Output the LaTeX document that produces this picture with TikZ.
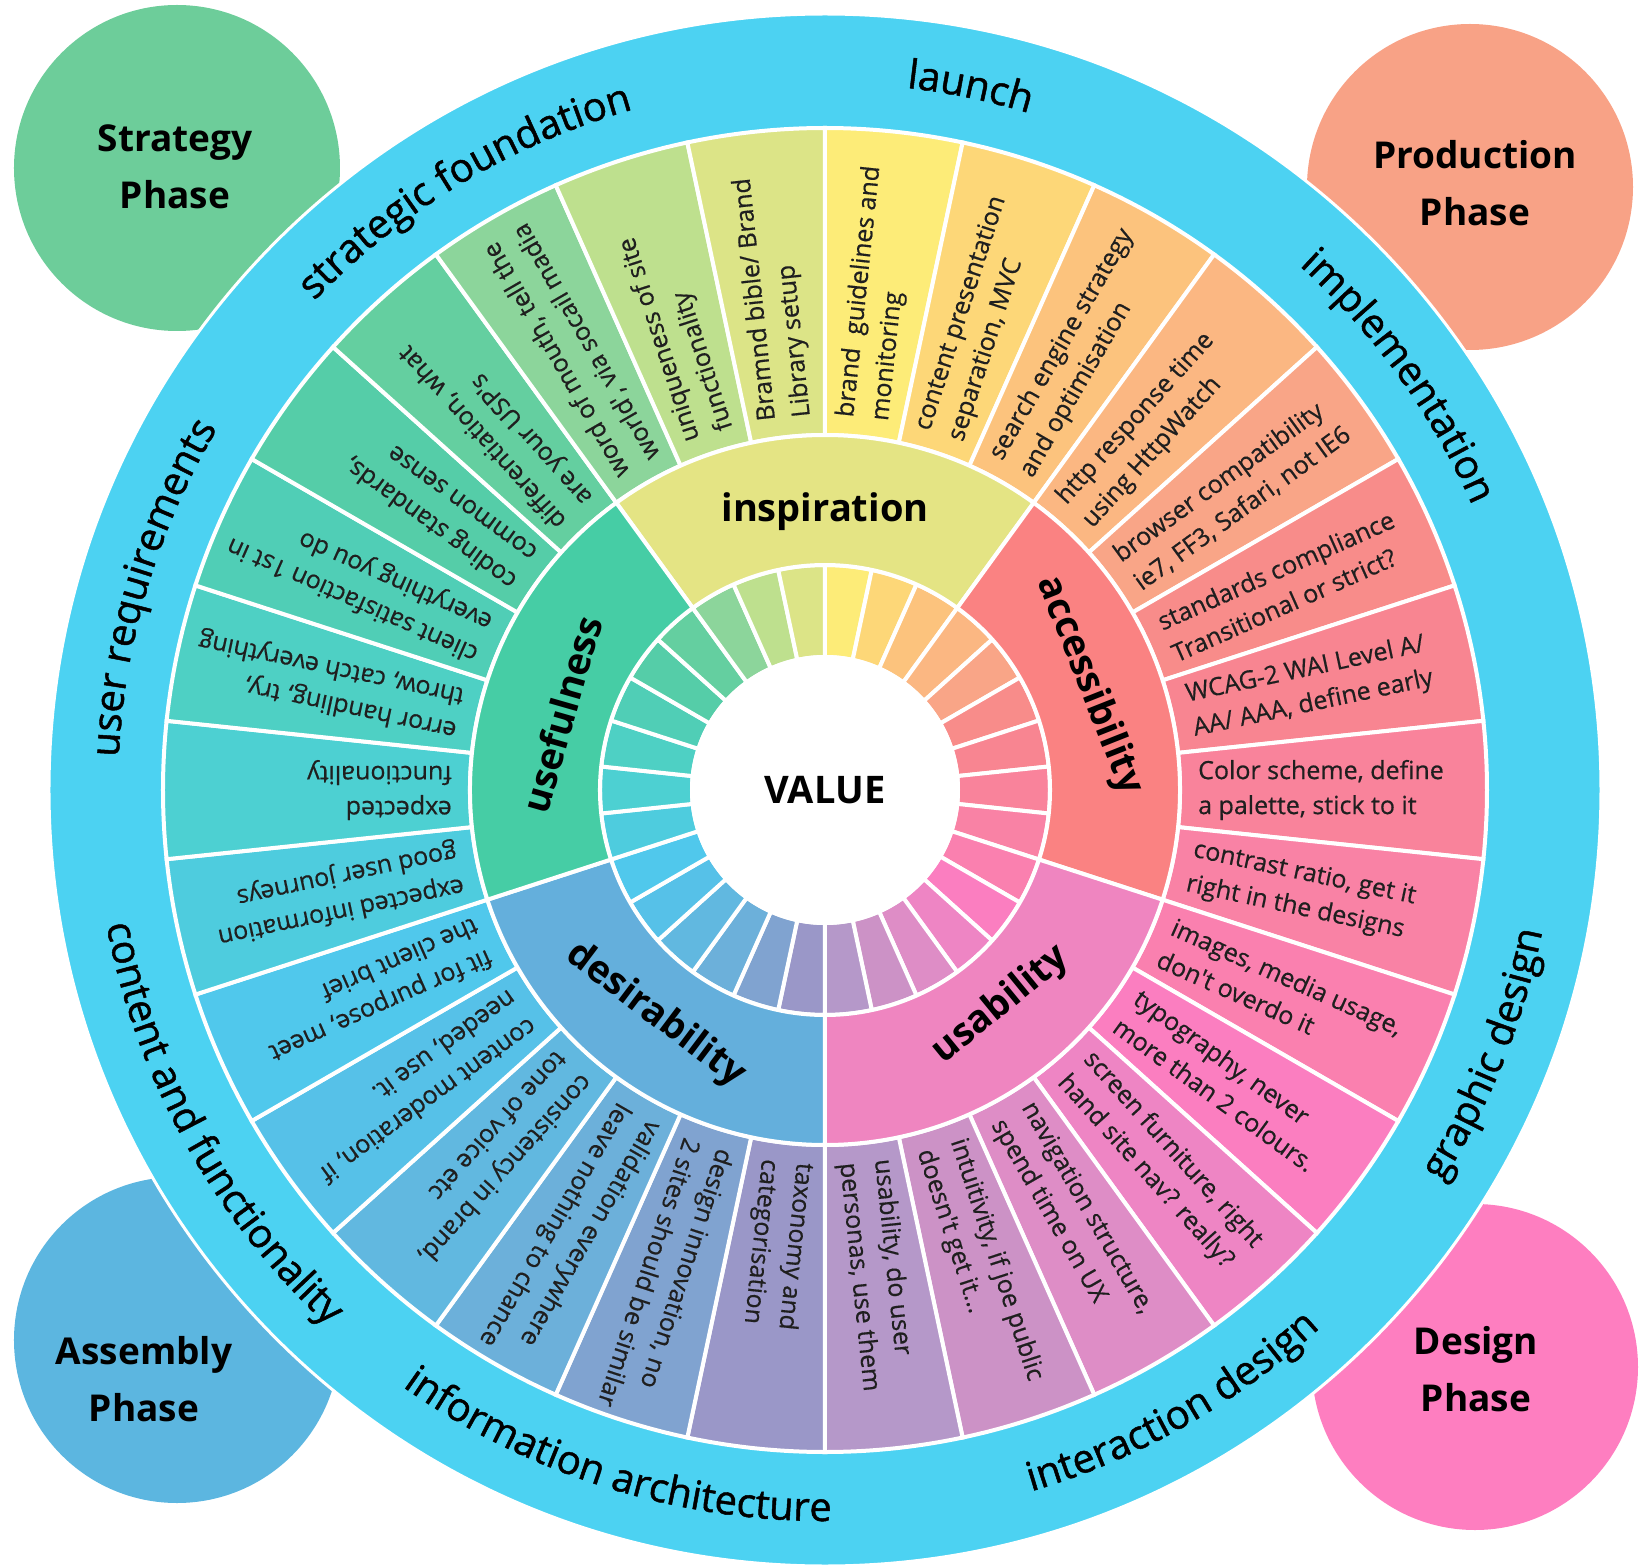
\documentclass[tikz,border=0pt]{standalone}
\usepackage{fontspec}
\setmainfont{Open Sans}
\newfontfamily\ringfam[FakeBold=1.2]{Open Sans}
\newfontfamily\segfam[FakeBold=0.5]{Open Sans}
\usetikzlibrary{decorations.text}
\definecolor{cRing}{HTML}{4CD2F2}
\definecolor{cStrat}{HTML}{6DCD9A}
\definecolor{cProd}{HTML}{F8A286}
\definecolor{cAsm}{HTML}{5CB6E0}
\definecolor{cDes}{HTML}{FE7EC0}
\definecolor{mInsp}{HTML}{E4E484}
\definecolor{mAcc}{HTML}{FA8282}
\definecolor{mUsa}{HTML}{EF85C0}
\definecolor{mDesi}{HTML}{64AFDC}
\definecolor{mUsef}{HTML}{46CDA5}
\definecolor{seg0}{HTML}{FDEC78}
\definecolor{seg1}{HTML}{FDD778}
\definecolor{seg2}{HTML}{FCC37D}
\definecolor{seg3}{HTML}{FBB782}
\definecolor{seg4}{HTML}{F9A587}
\definecolor{seg5}{HTML}{F88C8A}
\definecolor{seg6}{HTML}{F88591}
\definecolor{seg7}{HTML}{F9839B}
\definecolor{seg8}{HTML}{F982A5}
\definecolor{seg9}{HTML}{FA80AF}
\definecolor{seg10}{HTML}{FB7EC0}
\definecolor{seg11}{HTML}{EE85C4}
\definecolor{seg12}{HTML}{DE8DC6}
\definecolor{seg13}{HTML}{CC92C6}
\definecolor{seg14}{HTML}{B598C9}
\definecolor{seg15}{HTML}{9A97C8}
\definecolor{seg16}{HTML}{80A3D0}
\definecolor{seg17}{HTML}{6CB0DA}
\definecolor{seg18}{HTML}{61B8E0}
\definecolor{seg19}{HTML}{56C1E8}
\definecolor{seg20}{HTML}{50C8EC}
\definecolor{seg21}{HTML}{4ECCDE}
\definecolor{seg22}{HTML}{4DD0D2}
\definecolor{seg23}{HTML}{4ED0C4}
\definecolor{seg24}{HTML}{50CEB6}
\definecolor{seg25}{HTML}{55CDA8}
\definecolor{seg26}{HTML}{64CFA0}
\definecolor{seg27}{HTML}{8CD59B}
\definecolor{seg28}{HTML}{BEE08E}
\definecolor{seg29}{HTML}{DCE487}
\newcommand\ringfont{\ringfam\fontsize{40}{42}\selectfont}
\newcommand\segnode[3]{\node[segtxt, rotate={#1}] (#2) at ({#1}:373) {#3};}
\newcommand\ringlabel[4]{\path[decorate, decoration={text along path, text align=center, text={|\ringfont|#4}}] ({#1}:#3) arc[start angle={#1}, end angle={#2}, radius=#3];}
\begin{document}
\begin{tikzpicture}[x=1pt,y=1pt,
  segtxt/.style={anchor=west, align=left, inner sep=0pt, text=black!88, font=\segfam\fontsize{25}{35}\selectfont},
  midlbl/.style={font=\fontsize{38}{40}\selectfont\bfseries, inner sep=0pt},
  phaselbl/.style={font=\fontsize{37}{57}\selectfont\bfseries, align=center, inner sep=0pt},
  sepline/.style={draw=white, line width=4pt}
]
\useasboundingbox (-825,-776) rectangle (816,790);
% corner phase circles
\fill[cStrat] (-648,622) circle (163);
\fill[cProd] (645,603) circle (163);
\fill[cAsm] (-648,-550) circle (163);
\fill[cDes] (650,-577) circle (163);
% blue ring
\filldraw[fill=cRing, draw=white, line width=3pt] (0,0) circle (776);
% outer and inner segments
\foreach \i in {0,...,29} {
  \pgfmathsetmacro\aa{90-12*\i}
  \pgfmathsetmacro\ab{78-12*\i}
  \filldraw[fill=seg\i, sepline] (\aa:355) arc[start angle=\aa, end angle=\ab, radius=355] -- (\ab:662) arc[start angle=\ab, end angle=\aa, radius=662] -- cycle;
  \filldraw[fill=seg\i, sepline] (\aa:133) arc[start angle=\aa, end angle=\ab, radius=133] -- (\ab:225) arc[start angle=\ab, end angle=\aa, radius=225] -- cycle;
}
% middle sectors
\filldraw[fill=mInsp, sepline] (126:225) arc[start angle=126, end angle=54, radius=225] -- (54:355) arc[start angle=54, end angle=126, radius=355] -- cycle;
\filldraw[fill=mAcc, sepline] (54:225) arc[start angle=54, end angle=-18, radius=225] -- (-18:355) arc[start angle=-18, end angle=54, radius=355] -- cycle;
\filldraw[fill=mUsa, sepline] (-18:225) arc[start angle=-18, end angle=-90, radius=225] -- (-90:355) arc[start angle=-90, end angle=-18, radius=355] -- cycle;
\filldraw[fill=mDesi, sepline] (-90:225) arc[start angle=-90, end angle=-162, radius=225] -- (-162:355) arc[start angle=-162, end angle=-90, radius=355] -- cycle;
\filldraw[fill=mUsef, sepline] (-162:225) arc[start angle=-162, end angle=-234, radius=225] -- (-234:355) arc[start angle=-234, end angle=-162, radius=355] -- cycle;
% centre
\filldraw[fill=white, draw=white, line width=4pt] (0,0) circle (133);
\node[midlbl] (value) at (0,0) {VALUE};
% middle labels
\node[midlbl] (insp) at (90:278) {inspiration};
\node[midlbl, rotate=-68.4] (acc) at (21.6:284) {accessibility};
\node[midlbl, rotate=39.3] (usab) at (-50.7:278) {usability};
\node[midlbl, rotate=-37] (desir) at (-127:282) {desirability};
\node[midlbl, rotate=74] (usef) at (164:274) {usefulness};
% segment texts
\segnode{84}{t0}{brand\ \ guidelines and\\monitoring}
\segnode{72}{t1}{content presentation\\separation, MVC}
\segnode{60}{t2}{search engine strategy\\and optimisation}
\segnode{48}{t3}{http response time\\using HttpWatch}
\segnode{36}{t4}{browser compatibility\\ie7, FF3, Safari, not IE6}
\segnode{24}{t5}{standards compliance\\Transitional or strict?}
\segnode{12}{t6}{WCAG-2 WAI Level A/\\AA/ AAA, define early}
\segnode{0}{t7}{Color scheme, define\\a palette, stick to it}
\segnode{-12}{t8}{contrast ratio, get it\\right in the designs}
\segnode{-24}{t9}{images, media usage,\\don't overdo it}
\segnode{-36}{t10}{typography, never\\more than 2 colours.}
\segnode{-48}{t11}{screen furniture, right\\hand site nav? really?}
\segnode{-60}{t12}{navigation structure,\\spend time on UX}
\segnode{-72}{t13}{intuitivity, if joe public\\doesn't get it...}
\segnode{-84}{t14}{usability, do user\\personas, use them}
\segnode{-96}{t15}{taxonomy and\\categorisation}
\segnode{-108}{t16}{design innovation, no\\2 sites should be similar}
\segnode{-120}{t17}{validation everywhere\\leave nothing to chance}
\segnode{-132}{t18}{consistency in brand,\\tone of voice etc}
\segnode{-144}{t19}{content moderation, if\\needed, use it.}
\segnode{-156}{t20}{fit for purpose, meet\\the client brief}
\segnode{-168}{t21}{expected information\\good user journeys}
\segnode{-180}{t22}{expected\\functionality}
\segnode{-192}{t23}{error handling, try,\\throw, catch everything}
\segnode{-204}{t24}{client satisfaction 1st in\\everything you do}
\segnode{-216}{t25}{coding standards,\\common sense}
\segnode{-228}{t26}{differentiation, what\\are your USP's}
\segnode{-240}{t27}{word of mouth, tell the\\world', via socail madia}
\segnode{-252}{t28}{uniqueness of site\\functionality}
\segnode{-264}{t29}{Bramnd bible/ Brand\\Library setup}
% ring labels (clockwise on top, counter-clockwise below)
\ringlabel{118.3}{38.3}{707}{launch}
\ringlabel{75.8}{-4.2}{707}{implementation}
\ringlabel{161}{81}{707}{strategic foundation}
\ringlabel{203.3}{123.3}{707}{user requirements}
\ringlabel{-61.8}{18.2}{731}{graphic design}
\ringlabel{-100.5}{-20.5}{731}{interaction design}
\ringlabel{-147.4}{-67.4}{731}{information architecture}
\ringlabel{-191.1}{-111.1}{731}{content and functionality}
% phase labels
\node[phaselbl] (strat) at (-650,623) {Strategy\\Phase};
\node[phaselbl] (prod) at (650,607) {Production\\Phase};
\node[phaselbl] (asm) at (-681,-589) {Assembly\\Phase};
\node[phaselbl] (des) at (651,-579) {Design\\Phase};
\end{tikzpicture}
\end{document}
